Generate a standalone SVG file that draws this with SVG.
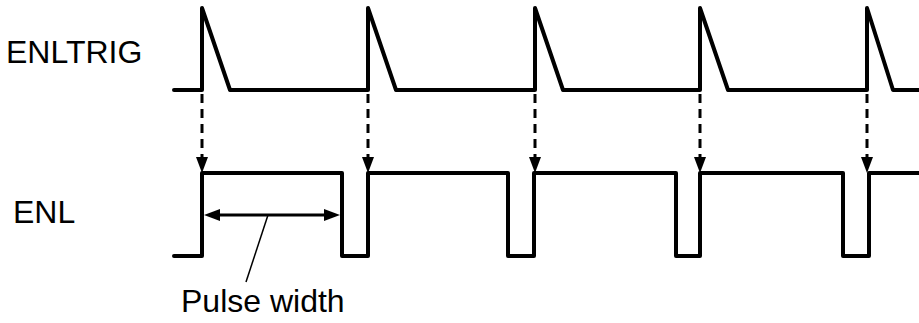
<svg xmlns="http://www.w3.org/2000/svg" width="919" height="323" viewBox="0 0 919 323">
<defs>
<style>
.sig{fill:none;stroke:#000;stroke-width:4;stroke-linejoin:round;stroke-linecap:round}
.dash{fill:none;stroke:#000;stroke-width:3;stroke-dasharray:9,6}
.lbl{font-family:"Liberation Sans",Arial,sans-serif;font-size:32px;fill:#000}
</style>
</defs>
<rect width="919" height="323" fill="#fff"/>
<g id="ENLTRIG">
<text class="lbl" x="6" y="63">ENLTRIG</text>
<path class="sig" d="M174,90 H202 V8 L230,90 H368 V8 L396,90 H535 V8 L563,90 H700 V8 L728,90 H867 V8 L893,90 H919"/>
</g>
<g id="ENL">
<text class="lbl" x="13" y="223">ENL</text>
<path class="sig" d="M174,256 H202 V173 H342 V256 H368 V173 H508 V256 H534 V173 H676 V256 H700 V173 H843 V256 H869 V173 H919"/>
</g>
<g id="pulse-width">
<text class="lbl" x="181" y="312">Pulse width</text>
</g>
<g id="connectors">
<g class="dash">
<path d="M202,94 V159"/>
<path d="M368,94 V159"/>
<path d="M535,94 V159"/>
<path d="M700,94 V159"/>
<path d="M867,94 V159"/>
</g>
<g fill="#000">
<path d="M196,157 L208,157 L202,173 Z"/>
<path d="M362,157 L374,157 L368,173 Z"/>
<path d="M529,157 L541,157 L535,173 Z"/>
<path d="M694,157 L706,157 L700,173 Z"/>
<path d="M861,157 L873,157 L867,173 Z"/>
</g>
<line x1="218" y1="215" x2="326" y2="215" stroke="#000" stroke-width="3"/>
<path d="M204,215 L220,209 L220,221 Z" fill="#000"/>
<path d="M340,215 L324,209 L324,221 Z" fill="#000"/>
<line x1="268" y1="215" x2="246" y2="282" stroke="#000" stroke-width="1.5"/>
</g>
</svg>
